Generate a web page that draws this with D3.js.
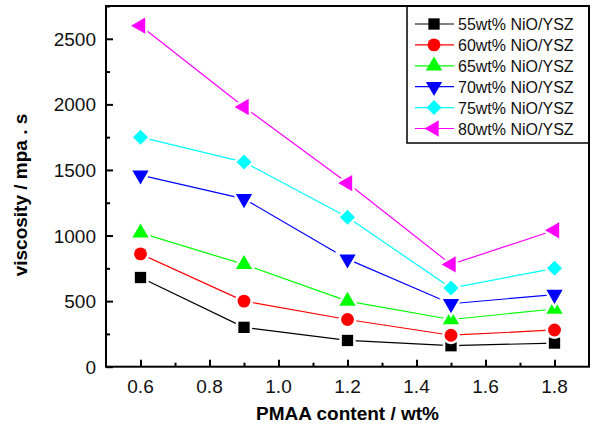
<!DOCTYPE html>
<html>
<head>
    <script src="https://cdn.jsdelivr.net/npm/d3@7"></script>
    <style>
        body { margin: 0; background: #fff; }
        text { font-family: "Liberation Sans", Arial, sans-serif; }
    </style>
</head>
<body>
<div id="chart"></div>
<script>
    // PMAA content (wt%) and viscosity (mpa.s) per NiO/YSZ loading
    var pmaa = [0.6, 0.9, 1.2, 1.5, 1.8];
    var v55 = [680, 300, 200, 160, 180];
    var v60 = [860, 500, 360, 240, 280];
    var v65 = [1020, 780, 500, 360, 440];
    var v70 = [1460, 1280, 820, 480, 550];
    var v75 = [1750, 1560, 1140, 600, 750];
    var v80 = [2600, 1980, 1400, 780, 1040];
    var names = ["55wt% NiO/YSZ", "60wt% NiO/YSZ", "65wt% NiO/YSZ",
                 "70wt% NiO/YSZ", "75wt% NiO/YSZ", "80wt% NiO/YSZ"];
    var xTicks = [0.6, 0.8, 1.0, 1.2, 1.4, 1.6, 1.8];
    var yTicks = [0, 500, 1000, 1500, 2000, 2500];

    var allSeries = [v55, v60, v65, v70, v75, v80];
    var colors = ["#000000", "#ff0000", "#00ff00", "#0000ff", "#00ffff", "#ff00ff"];
    // marker: symbol type, rotation, area
    var markers = [
        [d3.symbolSquare, 0, 128],
        [d3.symbolCircle, 0, 130],
        [d3.symbolTriangle, 0, 115],
        [d3.symbolTriangle, 180, 115],
        [d3.symbolSquare, 45, 112],
        [d3.symbolTriangle, -90, 115]
    ];

    var W = 593, H = 427;
    var pL = 106, pR = 589, pT = 6, pB = 366.7;

    var svg = d3.select("#chart").append("svg")
        .attr("width", W)
        .attr("height", H);

    var x = d3.scaleLinear().domain([0.5, 1.9]).range([pL, pR]);
    var y = d3.scaleLinear().domain([0, 2750]).range([pB, pT]);

    // x axis, ticks pointing inward
    var xAxis = svg.append("g")
        .attr("transform", "translate(0," + pB + ")")
        .call(d3.axisBottom(x)
            .tickValues(d3.range(0.6, 1.85, 0.1))
            .tickSize(-7)
            .tickFormat(""));
    xAxis.selectAll(".tick line")
        .attr("y2", function(d, i) { return i % 2 == 0 ? -7 : -4; })
        .attr("stroke-width", 2);
    xAxis.select(".domain").remove();
    svg.selectAll(".xlab").data(xTicks).enter().append("text")
        .attr("x", function(d) { return x(d); })
        .attr("y", 393)
        .attr("text-anchor", "middle")
        .style("font-size", "19px")
        .attr("fill", "#111")
        .text(function(d) { return d.toFixed(1); });

    // y axis
    var yAxis = svg.append("g")
        .attr("transform", "translate(" + pL + ",0)")
        .call(d3.axisLeft(y)
            .tickValues(d3.range(0, 2751, 250))
            .tickSize(-7)
            .tickFormat(""));
    yAxis.selectAll(".tick line")
        .attr("x2", function(d) { return d % 500 == 0 ? 7 : 4; })
        .attr("stroke-width", 2);
    yAxis.select(".domain").remove();
    svg.selectAll(".ylab").data(yTicks).enter().append("text")
        .attr("x", 96)
        .attr("y", function(d) { return y(d) + 7; })
        .attr("text-anchor", "end")
        .style("font-size", "19px")
        .attr("fill", "#111")
        .text(function(d) { return d; });

    // titles
    svg.append("text")
        .attr("x", (pL + pR) / 2)
        .attr("y", 420)
        .attr("text-anchor", "middle")
        .style("font-size", "19px")
        .style("font-weight", "bold")
        .text("PMAA content / wt%");

    svg.append("text")
        .attr("transform", "translate(27,195)rotate(-90)")
        .attr("text-anchor", "middle")
        .style("font-size", "19px")
        .style("font-weight", "bold")
        .text("viscosity / mpa . s");

    var line = d3.line()
        .x(function(d, i) { return x(pmaa[i]); })
        .y(function(d) { return y(d); });

    function drawMarker(g, k, cx, cy) {
        g.append("path")
            .attr("d", d3.symbol().type(markers[k][0]).size(markers[k][2])())
            .attr("transform", "translate(" + cx + "," + cy + ")rotate(" + markers[k][1] + ")")
            .attr("fill", colors[k])
            .attr("stroke", "#fff")
            .attr("stroke-width", 5)
            .style("paint-order", "stroke");
    }

    allSeries.forEach(function(vals, k) {
        svg.append("path")
            .datum(vals)
            .attr("fill", "none")
            .attr("stroke", colors[k])
            .attr("stroke-width", 1.2)
            .attr("d", line);
    });
    allSeries.forEach(function(vals, k) {
        var g = svg.append("g");
        vals.forEach(function(v, i) {
            drawMarker(g, k, x(pmaa[i]), y(v));
        });
    });

    // legend
    var lg = svg.append("g");
    lg.append("rect")
        .attr("x", 407).attr("y", pT)
        .attr("width", pR - 407).attr("height", 143 - pT)
        .attr("fill", "#fff")
        .attr("stroke", "#000")
        .attr("stroke-width", 1.5);
    names.forEach(function(n, k) {
        var ly = 24 + k * 20.9;
        lg.append("line")
            .attr("x1", 415).attr("x2", 454)
            .attr("y1", ly).attr("y2", ly)
            .attr("stroke", colors[k])
            .attr("stroke-width", 1.2);
        lg.append("path")
            .attr("d", d3.symbol().type(markers[k][0]).size(markers[k][2])())
            .attr("transform", "translate(434," + ly + ")rotate(" + markers[k][1] + ")")
            .attr("fill", colors[k]);
        lg.append("text")
            .attr("x", 458)
            .attr("y", ly + 6)
            .style("font-size", "16px")
            .attr("fill", "#111")
            .text(n);
    });

    // frame
    svg.append("rect")
        .attr("x", pL).attr("y", pT)
        .attr("width", pR - pL).attr("height", pB - pT)
        .attr("fill", "none")
        .attr("stroke", "#000")
        .attr("stroke-width", 2);
</script>
</body>
</html>
